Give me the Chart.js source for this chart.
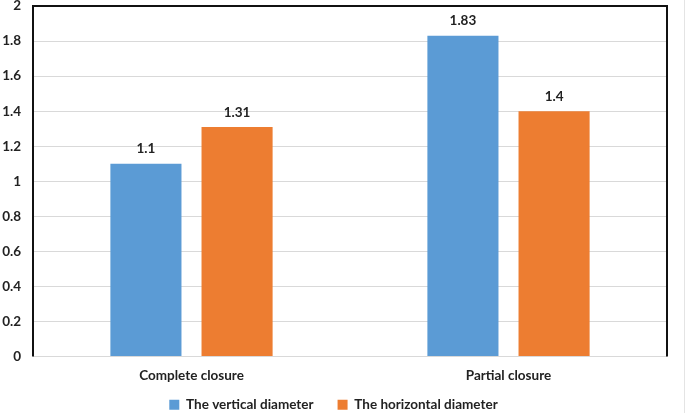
<!DOCTYPE html>
<html>
<head>
<meta charset="utf-8">
<script src="https://cdn.jsdelivr.net/npm/chart.js@4/dist/chart.umd.min.js"></script>
<style>
  html, body { margin: 0; padding: 0; background: #fff; }
  #wrap { width: 685px; height: 413px; position: relative; box-sizing: border-box; border-right: 1px solid #e4e4e4; }
</style>
</head>
<body>
<div id="wrap"><canvas id="chart" width="685" height="413"></canvas></div>
<script>
const categories = ["Complete closure", "Partial closure"];
const seriesNames = ["The vertical diameter", "The horizontal diameter"];
const verticalValues = [1.1, 1.83];
const horizontalValues = [1.31, 1.4];
const yTicks = [0, 0.2, 0.4, 0.6, 0.8, 1, 1.2, 1.4, 1.6, 1.8, 2];

const fontFamily = "Lato, 'Open Sans', sans-serif";
const legendPad = 24;

// value labels above each bar
const barLabels = {
  id: "barLabels",
  afterDatasetsDraw(chart) {
    const ctx = chart.ctx;
    ctx.save();
    ctx.font = "bold 13.5px " + fontFamily;
    ctx.fillStyle = "#222";
    ctx.textAlign = "center";
    ctx.textBaseline = "bottom";
    chart.data.datasets.forEach((ds, i) => {
      chart.getDatasetMeta(i).data.forEach((bar, j) => {
        ctx.fillText(String(ds.data[j]), bar.x, bar.y - 8);
      });
    });
    ctx.restore();
  }
};

// move the legend row close to the bottom edge (wide gap between items, small height)
const legendShift = {
  id: "legendShift",
  afterLayout(chart) {
    const lg = chart.legend;
    const dy = (398 - legendPad) - lg.top;
    lg.top += dy;
    lg.bottom += dy;
  }
};

// black frame on left, top and right of the plot
const plotFrame = {
  id: "plotFrame",
  afterDraw(chart) {
    const a = chart.chartArea;
    const ctx = chart.ctx;
    ctx.save();
    ctx.strokeStyle = "#111";
    ctx.lineWidth = 2;
    ctx.beginPath();
    ctx.moveTo(a.left, a.bottom);
    ctx.lineTo(a.left, a.top);
    ctx.lineTo(a.right, a.top);
    ctx.lineTo(a.right, a.bottom);
    ctx.stroke();
    ctx.restore();
  }
};

new Chart(document.getElementById("chart"), {
  type: "bar",
  data: {
    labels: categories,
    datasets: [
      { label: seriesNames[0], data: verticalValues, backgroundColor: "#5B9BD5" },
      { label: seriesNames[1], data: horizontalValues, backgroundColor: "#ED7D31" }
    ]
  },
  options: {
    responsive: false,
    animation: false,
    layout: { padding: { top: 6, right: 18, left: 0, bottom: -27 } },
    datasets: { bar: { categoryPercentage: 0.575, barPercentage: 0.78 } },
    scales: {
      x: {
        grid: { display: false },
        border: { display: false },
        ticks: { color: "#222", font: { family: fontFamily, size: 13.5, weight: "bold" }, padding: 3 },
        afterFit(s) { s.height = 36; }
      },
      y: {
        min: 0,
        max: 2,
        afterBuildTicks(s) { s.ticks = yTicks.map(v => ({ value: v })); },
        grid: { color: "#d9d9d9", lineWidth: 1, drawTicks: false },
        border: { display: false },
        ticks: {
          color: "#222",
          font: { family: fontFamily, size: 13.5, weight: "bold" },
          padding: 12,
          callback: v => String(Math.round(v * 10) / 10)
        },
        afterFit(s) { s.width = 33; s.paddingTop = 0; s.paddingBottom = 0; }
      }
    },
    plugins: {
      legend: {
        position: "bottom",
        labels: {
          boxWidth: 10,
          boxHeight: 10,
          padding: legendPad,
          color: "#222",
          font: { family: fontFamily, size: 13.5, weight: "bold" }
        }
      },
      tooltip: { enabled: false }
    }
  },
  plugins: [barLabels, legendShift, plotFrame]
});
</script>
</body>
</html>
